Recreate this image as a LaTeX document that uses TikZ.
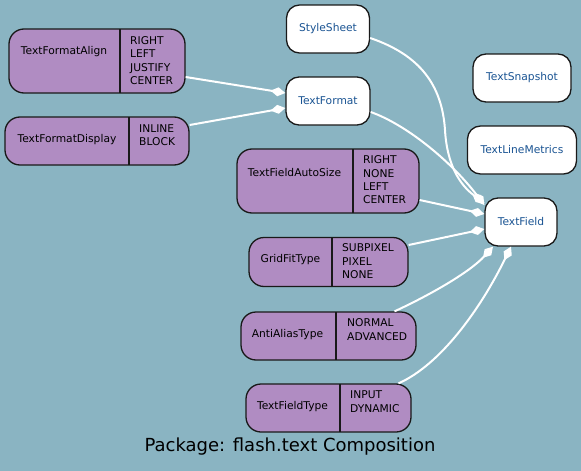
\documentclass[tikz,border=0pt]{standalone}
\usepackage{fontspec}
\setmainfont{DejaVu Sans}
\usetikzlibrary{arrows.meta,positioning}
\definecolor{bgblue}{RGB}{138,180,194}
\definecolor{recfill}{RGB}{176,140,194}
\definecolor{clsblue}{RGB}{26,84,147}
\tikzset{
  cls/.style={draw=black!90, line width=1.3pt, fill=white, rounded corners=13pt,
    minimum height=48pt, inner sep=0pt, text=clsblue, font=\fontsize{10.7}{13.4}\selectfont},
  rec/.style={draw=black!90, line width=1.3pt, fill=recfill, rounded corners=15pt, inner sep=0pt},
  lbl/.style={inner sep=0pt, font=\fontsize{10.7}{13.4}\selectfont},
  vals/.style={lbl, anchor=west, align=left},
  divider/.style={draw=black!90, line width=1.3pt},
  link/.style={->, white, line width=2pt},
}

\begin{document}
\begin{tikzpicture}[x=1pt,y=-1pt,>={Diamond[length=15pt,width=9pt]}]

\fill[bgblue] (0,0) rectangle (581,471);
\useasboundingbox (0,0) rectangle (581,471);

% classes
\node[cls, minimum width=83pt] (ss) at (328,29) {StyleSheet};
\node[cls, minimum width=84pt] (tfmt) at (328,101) {TextFormat};
\node[cls, minimum width=98pt] (snap) at (522,78) {TextSnapshot};
\node[cls, minimum width=109pt] (metrics) at (522,150) {TextLineMetrics};
\node[cls, minimum width=72pt] (tf) at (521,222) {TextField};

% enumerations
\node[rec, minimum width=176pt, minimum height=64pt] (align) at (97,61) {};
\draw[divider] (120,29) -- (120,93);
\node[lbl] (alignN) at (64,52) {TextFormatAlign};
\node[vals] (alignV) at (130,60.5) {RIGHT\\LEFT\\JUSTIFY\\CENTER};

\node[rec, minimum width=184pt, minimum height=48pt] (disp) at (97,141) {};
\draw[divider] (129,117) -- (129,165);
\node[lbl] (dispN) at (67,140) {TextFormatDisplay};
\node[vals] (dispV) at (139,135) {INLINE\\BLOCK};

\node[rec, minimum width=182pt, minimum height=64pt] (tfas) at (328,181) {};
\draw[divider] (353,149) -- (353,213);
\node[lbl] (tfasN) at (294.5,172.5) {TextFieldAutoSize};
\node[vals] (tfasV) at (363,180) {RIGHT\\NONE\\LEFT\\CENTER};

\node[rec, minimum width=159pt, minimum height=49pt] (gft) at (328.5,262) {};
\draw[divider] (332,237.5) -- (332,286.5);
\node[lbl] (gftN) at (290.5,259.5) {GridFitType};
\node[vals] (gftV) at (342,261.5) {SUBPIXEL\\PIXEL\\NONE};

\node[rec, minimum width=175pt, minimum height=48pt] (aat) at (328.5,336) {};
\draw[divider] (336,312) -- (336,360);
\node[lbl] (aatN) at (287.5,335) {AntiAliasType};
\node[vals] (aatV) at (347,329.5) {NORMAL\\ADVANCED};

\node[rec, minimum width=165pt, minimum height=48pt] (tft) at (328.5,408) {};
\draw[divider] (340,384) -- (340,432);
\node[lbl] (tftN) at (292.5,407) {TextFieldType};
\node[vals] (tftV) at (350,401.5) {INPUT\\DYNAMIC};

% composition links
\draw[link] ([yshift=-16pt]align.east) -- ([yshift=8pt]tfmt.west);
\draw[link] ([yshift=16pt]disp.east) -- ([yshift=-7pt]tfmt.west);
\draw[link] ([yshift=-9pt]ss.east) .. controls (420,55) and (442,85) .. (445,130)
  .. controls (447,165) and (460,185) .. ([yshift=19pt]tf.west);
\draw[link] ([yshift=-11pt]tfmt.east) .. controls (405,124) and (450,160) .. ([yshift=17pt]tf.west);
\draw[link] ([yshift=-19pt]tfas.east) -- ([yshift=8pt]tf.west);
\draw[link] ([yshift=17pt]gft.east) -- ([yshift=-7pt]tf.west);
\draw[link] ([xshift=66pt]aat.north) .. controls (430,295) and (470,272) .. ([xshift=-28pt]tf.south);
\draw[link] ([xshift=70pt]tft.north) .. controls (440,365) and (480,310) .. ([xshift=-10pt]tf.south);

\node[font=\fontsize{18}{22}\selectfont] (title) at (290,447) {Package: flash.text Composition};

\end{tikzpicture}
\end{document}
